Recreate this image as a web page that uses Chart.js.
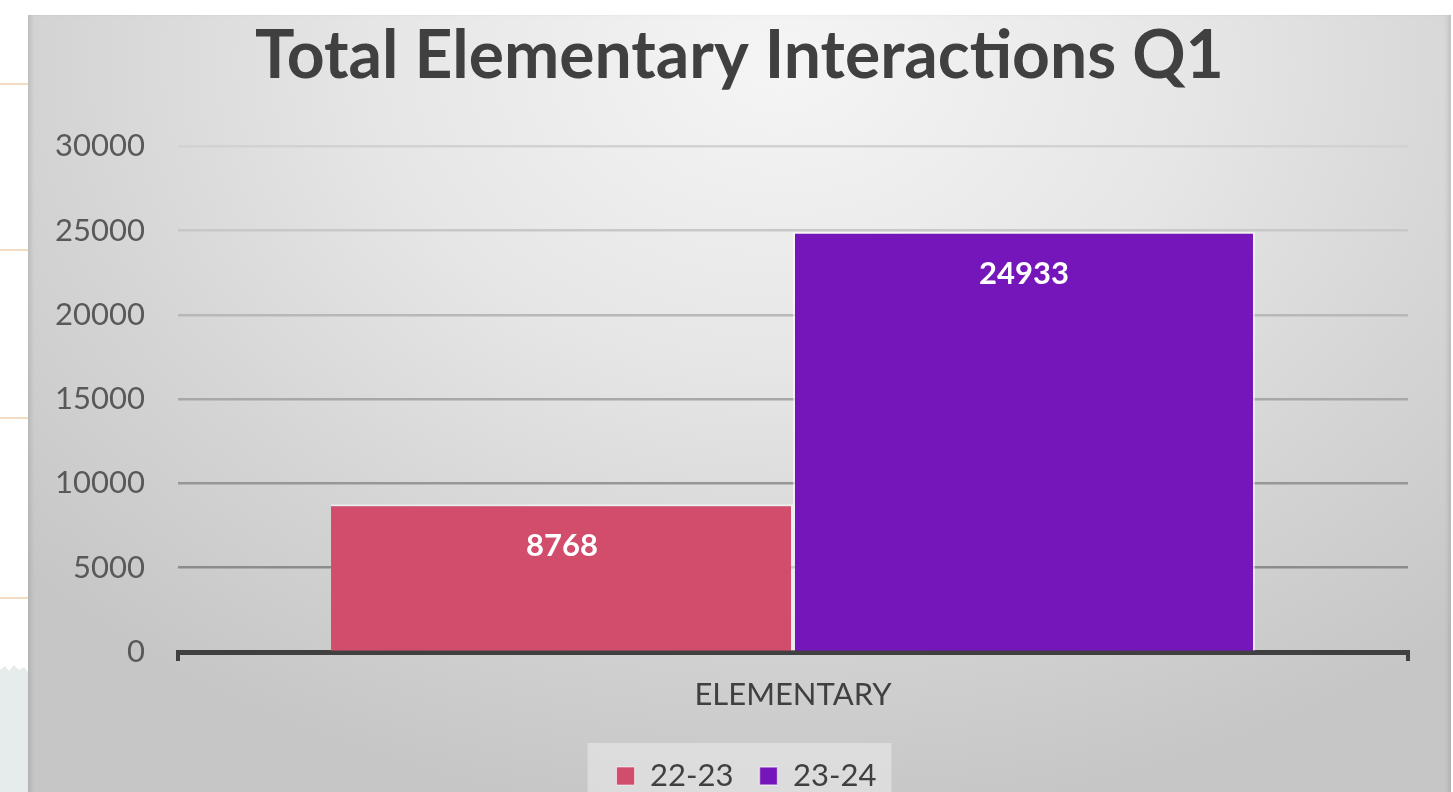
<!DOCTYPE html>
<html>
<head>
<meta charset="utf-8">
<script src="https://cdn.jsdelivr.net/npm/chart.js@4"></script>
<style>
  html, body { margin:0; padding:0; width:1453px; height:792px; overflow:hidden; background:#ffffff; }
  body { position:relative; }
  .deco { position:absolute; left:0; width:28px; height:2px; background:#f3dcc4; }
  #mtn { position:absolute; left:0; top:664px; width:28px; height:128px; background:#e6ebec;
         clip-path: polygon(0 6px, 5px 2px, 9px 7px, 14px 1px, 19px 6px, 24px 3px, 28px 8px, 28px 100%, 0 100%); }
  #panel { position:absolute; left:28px; top:15px; width:1423px; height:800px;
           background: radial-gradient(ellipse 72% 95% at 53% 6%, #f5f5f5 0%, #e6e6e6 40%, #d4d4d4 72%, #c6c6c6 100%);
           box-shadow: inset 5px 0 4px -2px rgba(0,0,0,0.10), inset -5px 0 4px -2px rgba(0,0,0,0.10); }
  #panel canvas { display:block; }
</style>
</head>
<body>
<div class="deco" style="top:83px"></div>
<div class="deco" style="top:249px"></div>
<div class="deco" style="top:417px"></div>
<div class="deco" style="top:597px"></div>
<div id="mtn"></div>
<div id="panel"><canvas id="c" width="1423" height="800"></canvas></div>
<script>
// ---- data ----
const titleText = 'Total Elementary Interactions Q1';
const categories = ['ELEMENTARY'];
const seriesNames = ['22-23', '23-24'];
const values2223 = [8768];
const values2324 = [24933];
const yMin = 0;
const yMax = 30000;
const yStep = 5000;

// ---- styles ----
const FONT = 'Lato, "Open Sans", "Liberation Sans", sans-serif';
const seriesColors = ['#d14d6b', '#7516bb'];
const gridColors = ['#8e8e8e', '#8c8c8c', '#979797', '#a8a8a8', '#b8b8b8', '#c8c8c8', '#d2d2d2'];

const dataLabelPlugin = {
  id: 'dataLabels',
  afterDatasetsDraw(chart) {
    const ctx = chart.ctx;
    ctx.save();
    ctx.font = 'bold 31px ' + FONT;
    ctx.fillStyle = '#ffffff';
    ctx.textAlign = 'center';
    ctx.textBaseline = 'middle';
    chart.data.datasets.forEach((ds, di) => {
      const meta = chart.getDatasetMeta(di);
      meta.data.forEach((el, i) => {
        ctx.fillText(String(ds.data[i]), el.x, el.y + 42);
      });
    });
    ctx.restore();
  }
};

// shift title and legend boxes so they centre on the whole panel
const centerBoxesPlugin = {
  id: 'centerBoxes',
  afterLayout(chart) {
    if (chart.titleBlock) chart.titleBlock.left += 43;
    if (chart.legend) chart.legend.left += 57;
  }
};

const legendBgPlugin = {
  id: 'legendBg',
  beforeDraw(chart) {
    const lg = chart.legend;
    if (!lg || !lg.legendHitBoxes || !lg.legendHitBoxes.length) return;
    const hb = lg.legendHitBoxes;
    const left = hb[0].left - 29;
    const right = hb[hb.length - 1].left + hb[hb.length - 1].width + 15;
    const ctx = chart.ctx;
    ctx.save();
    ctx.fillStyle = 'rgba(240,240,240,0.5)';
    ctx.fillRect(left, 728, right - left, chart.height - 728);
    ctx.restore();
  }
};

new Chart(document.getElementById('c'), {
  type: 'bar',
  data: {
    labels: categories,
    datasets: [
      { label: seriesNames[0], data: values2223, backgroundColor: seriesColors[0],
        borderColor: 'rgba(255,255,255,0.55)', borderWidth: {top:2, left:0, right:2, bottom:0}, borderSkipped: 'bottom' },
      { label: seriesNames[1], data: values2324, backgroundColor: seriesColors[1],
        borderColor: 'rgba(255,255,255,0.55)', borderWidth: {top:2, left:2, right:2, bottom:0}, borderSkipped: 'bottom' }
    ]
  },
  options: {
    responsive: false,
    animation: false,
    devicePixelRatio: 1,
    categoryPercentage: 0.7512,
    barPercentage: 1.0,
    layout: { padding: { top: 0, right: 43, bottom: 13.5, left: 0 } },
    plugins: {
      title: {
        display: true, text: titleText, color: '#404040',
        font: { family: FONT, size: 66, weight: 'bold', lineHeight: 1.2 },
        padding: { top: 2, bottom: 50 }
      },
      legend: {
        display: true, position: 'bottom',
        labels: {
          color: '#404040', font: { family: FONT, size: 31 },
          boxWidth: 18, boxHeight: 18, padding: 26
        }
      },
      tooltip: { enabled: false }
    },
    scales: {
      x: {
        offset: true,
        grid: { offset: true, drawOnChartArea: false, drawTicks: true, tickLength: 9, lineWidth: 4, color: '#404040' },
        border: { display: true, width: 5, color: '#404040' },
        ticks: { color: '#404040', font: { family: FONT, size: 31 }, padding: 15 },
        afterFit(scale) { scale.height = 82.5; }
      },
      y: {
        min: yMin, max: yMax,
        ticks: { stepSize: yStep, padding: 33, color: '#595959', font: { family: FONT, size: 31 },
                 callback: (v) => String(v) },
        grid: { drawTicks: false, lineWidth: 2.5, color: (c) => gridColors[c.index] || '#c8c8c8' },
        border: { display: false },
        afterFit(scale) { scale.width = 150; }
      }
    }
  },
  plugins: [centerBoxesPlugin, legendBgPlugin, dataLabelPlugin]
});
</script>
</body>
</html>
